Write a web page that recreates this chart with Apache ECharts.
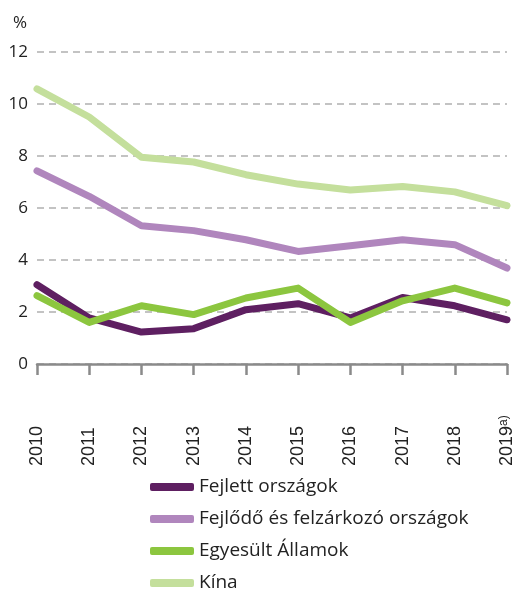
<!DOCTYPE html>
<html>
<head>
<meta charset="utf-8">
<script src="https://cdn.jsdelivr.net/npm/echarts@6/dist/echarts.min.js"></script>
<style>
  html, body { margin: 0; padding: 0; background: #fff; }
  #chart { width: 516px; height: 589px; }
</style>
</head>
<body>
<div id="chart"></div>
<script>
  const years = ['2010', '2011', '2012', '2013', '2014', '2015', '2016', '2017', '2018', '2019']
  const fejlett = [3.05, 1.77, 1.23, 1.36, 2.09, 2.32, 1.77, 2.56, 2.24, 1.70]
  const fejlodo = [7.43, 6.45, 5.32, 5.13, 4.78, 4.33, 4.55, 4.78, 4.59, 3.69]
  const egyesult = [2.63, 1.60, 2.24, 1.90, 2.54, 2.92, 1.60, 2.43, 2.92, 2.35]
  const kina = [10.58, 9.50, 7.95, 7.77, 7.28, 6.92, 6.69, 6.83, 6.62, 6.09]
  const names = ['Fejlett országok', 'Fejlődő és felzárkozó országok', 'Egyesült Államok', 'Kína']
  const colors = ['#5e1f61', '#b086bd', '#8cc63f', '#c4df9c']

  const chart = echarts.init(document.getElementById('chart'))

  // közös vonalbeállítás
  const line = (name, data) => ({
    name: name,
    type: 'line',
    data: data,
    symbol: 'none',
    lineStyle: { width: 7, cap: 'round', join: 'round' }
  })

  chart.setOption({
    animation: false,
    color: colors,
    title: {
      text: '%',
      left: 8,
      top: 10,
      textStyle: { fontFamily: 'Open Sans', fontWeight: 'normal', fontSize: 17, color: '#222' }
    },
    grid: { left: 37, right: 8, top: 52, bottom: 225, containLabel: false },
    legend: {
      orient: 'vertical',
      left: 145,
      top: 472,
      height: 127,
      itemWidth: 44,
      itemHeight: 8,
      itemGap: 12,
      icon: 'roundRect',
      textStyle: { fontFamily: 'Open Sans', fontSize: 19, lineHeight: 20, color: '#222' },
      data: names
    },
    xAxis: {
      type: 'category',
      boundaryGap: false,
      data: years,
      axisLine: { lineStyle: { color: '#8a8a8a', width: 2.5 } },
      axisTick: { length: 11, lineStyle: { color: '#8a8a8a', width: 2.5 } },
      axisLabel: {
        interval: 0,
        rotate: 90,
        align: 'left',
        verticalAlign: 'middle',
        margin: 102,
        fontFamily: 'Liberation Sans',
        fontSize: 18,
        color: '#222',
        formatter: v => v === '2019' ? v + '{sup|a)}' : v,
        rich: {
          sup: { fontFamily: 'Liberation Sans', fontSize: 12, verticalAlign: 'top', color: '#222' }
        }
      }
    },
    yAxis: {
      type: 'value',
      min: 0,
      max: 12,
      interval: 2,
      axisLine: { show: false },
      axisTick: { show: false },
      axisLabel: { margin: 9, fontFamily: 'Open Sans', fontSize: 17, color: '#222' },
      splitLine: { lineStyle: { color: '#b0b0b0', width: 1.5, type: [7, 5] } }
    },
    series: [
      line(names[0], fejlett),
      line(names[1], fejlodo),
      line(names[2], egyesult),
      line(names[3], kina)
    ]
  })
</script>
</body>
</html>
